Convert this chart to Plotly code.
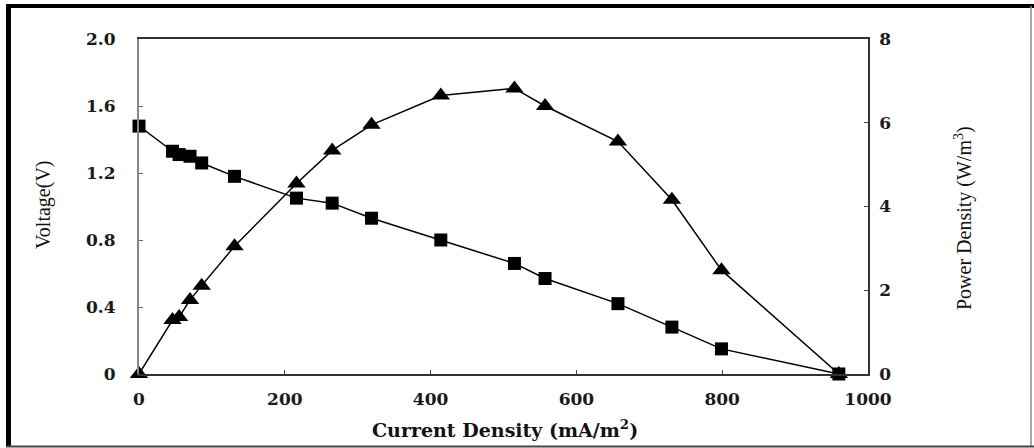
import plotly.graph_objects as go

# ---- data ----
current_density = [0, 46, 55, 70, 86, 131, 216, 265, 319, 414, 515, 557, 657, 731, 799, 960]
voltage = [1.48, 1.33, 1.31, 1.30, 1.26, 1.18, 1.05, 1.02, 0.93, 0.80, 0.66, 0.57, 0.42, 0.28, 0.15, 0.0]
power_density = [0, 1.29, 1.36, 1.77, 2.11, 3.05, 4.55, 5.34, 5.95, 6.65, 6.82, 6.40, 5.55, 4.16, 2.48, 0]

x_ticks = [0, 200, 400, 600, 800, 1000]
v_ticks = [0, 0.4, 0.8, 1.2, 1.6, 2.0]
v_tick_text = ["0", "0.4", "0.8", "1.2", "1.6", "2.0"]
p_ticks = [0, 2, 4, 6, 8]

# ---- layout geometry (pixels) ----
W, H = 1034, 448
ML, MR, MT, MB = 139, 166, 39, 74
PW, PH = W - ML - MR, H - MT - MB


def px(xp):
    return (xp - ML) / PW


def py(yp):
    return (H - MB - yp) / PH


tick_font = dict(family="DejaVu Serif", size=17, color="#1a1a1a", weight="bold")

fig = go.Figure()
fig.add_trace(go.Scatter(
    x=current_density, y=power_density, yaxis="y2", mode="lines+markers",
    line=dict(color="black", width=1.5),
    marker=dict(symbol="triangle-up", size=16, color="black"),
    cliponaxis=False, showlegend=False,
))
fig.add_trace(go.Scatter(
    x=current_density, y=voltage, mode="lines+markers",
    line=dict(color="black", width=1.5),
    marker=dict(symbol="square", size=13, color="black"),
    cliponaxis=False, showlegend=False,
))

fig.update_layout(
    width=W, height=H,
    margin=dict(l=ML, r=MR, t=MT, b=MB),
    paper_bgcolor="white", plot_bgcolor="white",
    xaxis=dict(
        range=[0, 1000], tickvals=x_ticks, ticks="inside", ticklen=4,
        tickcolor="#444", showline=True, linecolor="#333", linewidth=1.5,
        mirror=True, showgrid=False, zeroline=False,
        tickfont=tick_font, ticklabelstandoff=9,
    ),
    yaxis=dict(
        range=[0, 2], tickvals=v_ticks, ticktext=v_tick_text, ticks="inside",
        ticklen=4, tickcolor="#666", showline=True, linecolor="#888",
        linewidth=2, showgrid=False, zeroline=False,
        tickfont=tick_font, ticklabelstandoff=18,
    ),
    yaxis2=dict(
        range=[0, 8], tickvals=p_ticks, overlaying="y", side="right",
        ticks="inside", ticklen=4, tickcolor="#444", showline=True,
        linecolor="#333", linewidth=1.5, showgrid=False, zeroline=False,
        tickfont=tick_font, ticklabelstandoff=6,
    ),
    annotations=[
        dict(text="Voltage(V)", xref="paper", yref="paper", x=px(43), y=py(204),
             xanchor="center", yanchor="middle", textangle=-90, showarrow=False,
             font=dict(family="Liberation Serif", size=20, color="#111")),
        dict(text="Power Density (W/m<sup>3</sup>)", xref="paper", yref="paper",
             x=px(963), y=py(218), xanchor="center", yanchor="middle",
             textangle=-90, showarrow=False,
             font=dict(family="Liberation Serif", size=20, color="#111")),
        dict(text="Current Density (mA/m<sup>2</sup>)", xref="paper", yref="paper",
             x=px(505), y=py(429), xanchor="center", yanchor="middle",
             showarrow=False,
             font=dict(family="DejaVu Serif", size=19, color="#111", weight="bold")),
    ],
    shapes=[
        dict(type="line", xref="paper", yref="paper", x0=px(8.5), x1=px(8.5),
             y0=py(4), y1=py(447), line=dict(color="black", width=5)),
        dict(type="line", xref="paper", yref="paper", x0=px(6), x1=px(1034),
             y0=py(6), y1=py(6), line=dict(color="black", width=4)),
        dict(type="line", xref="paper", yref="paper", x0=px(1031), x1=px(1031),
             y0=py(6), y1=py(447), line=dict(color="#888", width=1.5)),
        dict(type="line", xref="paper", yref="paper", x0=px(6), x1=px(1034),
             y0=py(446.5), y1=py(446.5), line=dict(color="#444", width=2)),
    ],
)

fig.write_html(
    "out.html",
    config={"displayModeBar": False},
    post_script="document.body.style.margin='0';document.body.style.padding='0';"
                "document.body.style.overflow='hidden';",
)
